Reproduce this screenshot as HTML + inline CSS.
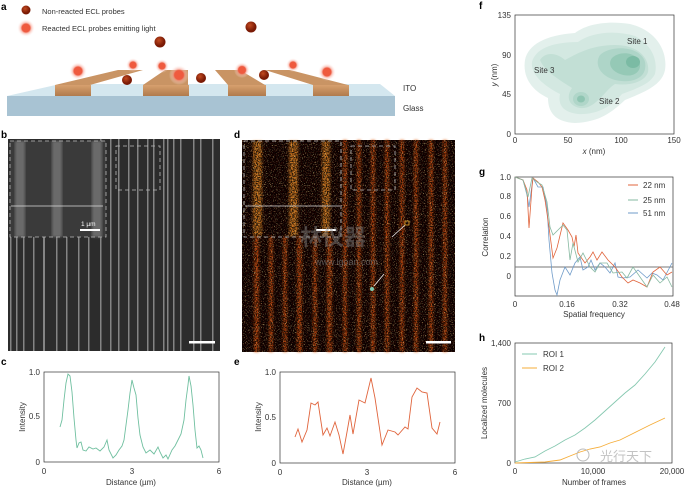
<!DOCTYPE html>
<html><head><meta charset="utf-8"><style>
body{margin:0;background:#fff;}
svg{display:block;font-family:"Liberation Sans","Noto Sans CJK SC",sans-serif;}
.t{font-size:8px;fill:#333;}
.L{font-size:10px;font-weight:bold;fill:#000;}
</style></head><body>
<svg width="685" height="487" viewBox="0 0 685 487" xmlns="http://www.w3.org/2000/svg">
<defs>
<radialGradient id="glow"><stop offset="0" stop-color="#f05a3c"/><stop offset="0.45" stop-color="#ee5a40"/><stop offset="0.6" stop-color="#f7a090" stop-opacity="0.6"/><stop offset="1" stop-color="#fff" stop-opacity="0"/></radialGradient>
<radialGradient id="dot" cx="0.4" cy="0.35"><stop offset="0" stop-color="#c24a20"/><stop offset="1" stop-color="#7a1a05"/></radialGradient>
<linearGradient id="wood" x1="0" y1="0" x2="0" y2="1"><stop offset="0" stop-color="#d7a06e"/><stop offset="1" stop-color="#b07a4c"/></linearGradient>
<filter id="noise" x="0" y="0" width="100%" height="100%"><feTurbulence type="fractalNoise" baseFrequency="0.8" numOctaves="2" seed="3"/><feColorMatrix values="0 0 0 0 0  0 0 0 0 0  0 0 0 0 0  5 0 0 0 -2"/></filter>
<filter id="noise2" x="0" y="0" width="100%" height="100%"><feTurbulence type="fractalNoise" baseFrequency="0.9" numOctaves="2" seed="7"/><feColorMatrix values="0 0 0 0 1  0 0 0 0 0.8  0 0 0 0 0.3  5 0 0 0 -2.9"/></filter>
<filter id="blur1"><feGaussianBlur stdDeviation="1.2"/></filter>
</defs>

<!-- Panel a -->
<text x="1" y="10" class="L">a</text>
<circle cx="26" cy="10" r="4.5" fill="url(#dot)"/>
<circle cx="26" cy="28" r="9" fill="url(#glow)"/>
<text x="42" y="14" class="t" style="font-size:7.5px">Non-reacted ECL probes</text>
<text x="42" y="31" class="t" style="font-size:7.5px">Reacted ECL probes emitting light</text>
<polygon points="7,96 60,84 380,84 395,96" fill="#d4e7ef"/>
<rect x="7" y="96" width="388" height="20" fill="#a8c3d3"/>
<g>
<polygon points="55,85 118,70 143,70 90,85" fill="#c99464"/>
<rect x="55" y="85" width="36" height="11" fill="url(#wood)"/>
<polygon points="143,85 165,70 188,70 188,85" fill="#c99464"/>
<rect x="143" y="85" width="46" height="11" fill="url(#wood)"/>
<polygon points="228,85 215,70 240,70 265,85" fill="#c99464"/>
<rect x="228" y="85" width="38" height="11" fill="url(#wood)"/>
<polygon points="313,85 265,70 290,70 348,85" fill="#c99464"/>
<rect x="313" y="85" width="36" height="11" fill="url(#wood)"/>
</g>
<circle cx="78" cy="71" r="9" fill="url(#glow)"/>
<circle cx="133" cy="65" r="7" fill="url(#glow)"/>
<circle cx="162" cy="66" r="7" fill="url(#glow)"/>
<circle cx="179" cy="75" r="10" fill="url(#glow)"/>
<circle cx="242" cy="70" r="8" fill="url(#glow)"/>
<circle cx="293" cy="65" r="7" fill="url(#glow)"/>
<circle cx="327" cy="72" r="9" fill="url(#glow)"/>
<circle cx="127" cy="80" r="5" fill="url(#dot)"/>
<circle cx="160" cy="42" r="5.5" fill="url(#dot)"/>
<circle cx="201" cy="78" r="5" fill="url(#dot)"/>
<circle cx="251" cy="27" r="5.5" fill="url(#dot)"/>
<circle cx="264" cy="75" r="5" fill="url(#dot)"/>
<text x="403" y="91" class="t">ITO</text>
<text x="403" y="111" class="t">Glass</text>

<!-- Panel b -->
<text x="1" y="138" class="L">b</text>
<rect x="8" y="139" width="212" height="212" fill="#2c2c2c"/>
<g fill="#9a9a9a" opacity="0.8">
<rect x="10" y="236" width="1.5" height="115"/><rect x="16" y="236" width="1.5" height="115"/><rect x="23" y="236" width="1.5" height="115"/>
<rect x="33" y="236" width="1.5" height="115"/><rect x="43" y="236" width="2" height="115"/><rect x="56" y="236" width="1.5" height="115"/>
<rect x="66" y="236" width="1.5" height="115"/><rect x="78" y="236" width="1.5" height="115"/><rect x="88" y="236" width="1.5" height="115"/>
<rect x="100" y="139" width="1.5" height="212"/><rect x="110" y="139" width="1.5" height="212"/><rect x="118" y="139" width="1.5" height="212"/>
<rect x="128" y="139" width="1.5" height="212"/><rect x="137" y="139" width="1.5" height="212"/><rect x="147" y="139" width="1.5" height="212"/>
<rect x="153" y="139" width="1.5" height="212"/><rect x="163" y="139" width="1.5" height="212"/><rect x="167" y="139" width="1.5" height="212"/>
<rect x="173" y="139" width="1.5" height="212"/><rect x="180" y="139" width="1.5" height="212"/><rect x="193" y="139" width="1.5" height="212"/>
<rect x="200" y="139" width="1.5" height="212"/><rect x="212" y="139" width="1.5" height="212"/>
</g>
<rect x="10" y="141" width="96" height="96" fill="#3a3a3a"/>
<rect x="15" y="141" width="10" height="96" fill="#6a6a6a" filter="url(#blur1)"/>
<rect x="52" y="141" width="10" height="96" fill="#6a6a6a" filter="url(#blur1)"/>
<rect x="92" y="141" width="10" height="96" fill="#6a6a6a" filter="url(#blur1)"/>
<rect x="10" y="141" width="96" height="96" fill="none" stroke="#bbb" stroke-width="0.8" stroke-dasharray="4,3"/>
<line x1="11" y1="206" x2="103" y2="206" stroke="#ddd" stroke-width="0.8"/>
<rect x="80" y="229" width="20" height="2" fill="#fff"/>
<text x="81" y="226" style="font-size:6.5px;fill:#fff">1 µm</text>
<rect x="116" y="146" width="44" height="44" fill="none" stroke="#bbb" stroke-width="0.8" stroke-dasharray="4,3"/>
<rect x="189" y="341" width="26" height="2.5" fill="#fff"/>

<!-- Panel d -->
<text x="234" y="138" class="L">d</text>
<rect x="242" y="140" width="213" height="212" fill="#1c0200"/>
<g fill="#e0520f" opacity="0.8" filter="url(#blur1)">
<rect x="254" y="236" width="5" height="116"/><rect x="269" y="236" width="4" height="116"/><rect x="283" y="236" width="4" height="116"/>
<rect x="297" y="236" width="5" height="116"/><rect x="313" y="236" width="4" height="116"/><rect x="327" y="236" width="5" height="116"/>
<rect x="343" y="140" width="4" height="212"/><rect x="357" y="140" width="4" height="212"/><rect x="371" y="140" width="4" height="212"/>
<rect x="385" y="140" width="4" height="212"/><rect x="400" y="140" width="4" height="212"/><rect x="414" y="140" width="4" height="212"/>
<rect x="429" y="140" width="4" height="212"/><rect x="443" y="140" width="4" height="212"/>
</g>
<g fill="#f08a20" filter="url(#blur1)" opacity="0.8">
<rect x="253" y="141" width="9" height="95"/><rect x="289" y="141" width="9" height="95"/><rect x="322" y="141" width="8" height="95"/>
</g>
<rect x="242" y="140" width="213" height="212" fill="#000" filter="url(#noise)" opacity="0.8"/>
<rect x="242" y="140" width="213" height="212" fill="#000" filter="url(#noise2)" opacity="0.6"/>
<rect x="244" y="141" width="97" height="96" fill="none" stroke="#ccc" stroke-width="0.8" stroke-dasharray="4,3"/>
<line x1="245" y1="206" x2="340" y2="206" stroke="#ddd" stroke-width="0.8"/>
<rect x="316" y="229" width="20" height="2" fill="#fff"/>
<rect x="351" y="146" width="44" height="44" fill="none" stroke="#bbb" stroke-width="0.8" stroke-dasharray="4,3"/>
<rect x="426" y="341" width="25" height="2.5" fill="#fff"/>
<line x1="392" y1="237" x2="405" y2="225" stroke="#eee" stroke-width="0.8"/>
<rect x="405" y="221" width="4" height="4" fill="none" stroke="#f3b030" stroke-width="0.8"/>
<line x1="384" y1="274" x2="374" y2="286" stroke="#eee" stroke-width="0.8"/>
<circle cx="372" cy="289" r="2" fill="#7cc8b0"/>
<text x="300" y="245" style="font-size:22px;fill:#888;opacity:0.45;font-weight:bold">林仪器</text>
<text x="315" y="265" style="font-size:9px;fill:#999;opacity:0.5">www.lgoan.com</text>

<!-- Panel c -->
<text x="1" y="365" class="L">c</text>
<rect x="44" y="372" width="175" height="90" fill="none" stroke="#333" stroke-width="0.7"/>
<g class="t" text-anchor="end"><text x="40" y="375">1.0</text><text x="40" y="419">0.5</text><text x="40" y="465">0</text></g>
<g class="t" text-anchor="middle"><text x="44" y="474">0</text><text x="132" y="474">3</text><text x="219" y="474">6</text><text x="131" y="485">Distance (µm)</text></g>
<text class="t" transform="translate(25,417) rotate(-90)" text-anchor="middle">Intensity</text>
<polyline fill="none" stroke="#6fbf9f" stroke-width="0.9" points="60,427 62,420 64,400 66,383 68,374 70,376 72,392 74,418 76,440 77,448 79,443 81,442 83,450 86,451 89,447 93,449 96,448 100,451 104,447 107,440 109,450 113,458 116,455 119,450 122,446 124,440 126,425 128,410 130,393 132,380 134,388 136,395 138,418 140,435 143,447 146,453 150,450 154,454 158,447 160,452 163,458 166,455 168,459 172,450 175,446 178,440 181,434 184,420 186,400 188,385 189,376 191,386 193,405 195,430 197,448 199,446 201,450 203,458"/>

<!-- Panel e -->
<text x="234" y="365" class="L">e</text>
<rect x="280" y="372" width="175" height="91" fill="none" stroke="#333" stroke-width="0.7"/>
<g class="t" text-anchor="end"><text x="276" y="375">1.0</text><text x="276" y="420">0.5</text><text x="276" y="466">0</text></g>
<g class="t" text-anchor="middle"><text x="280" y="475">0</text><text x="367" y="475">3</text><text x="455" y="475">6</text><text x="367" y="485">Distance (µm)</text></g>
<text class="t" transform="translate(261,417) rotate(-90)" text-anchor="middle">Intensity</text>
<polyline fill="none" stroke="#e0643c" stroke-width="0.9" points="295,437 298,429 302,442 307,430 311,403 315,405 318,402 323,435 327,428 330,436 335,422 339,435 343,454 347,432 350,415 353,434 359,400 365,403 371,378 375,398 382,445 388,430 395,432 398,435 405,427 408,429 412,397 417,388 422,392 427,393 432,428 437,434 440,422"/>

<!-- Panel f -->
<text x="479" y="9" class="L">f</text>
<path d="M525,60 C528,45 545,35 575,33 C585,25 605,20 630,24 C655,30 668,50 665,70 C662,85 645,92 625,100 C612,112 600,122 575,123 C555,122 548,112 548,98 C535,92 522,80 525,60Z" fill="#e3f0ec"/>
<path d="M532,62 C535,50 550,42 578,42 C592,32 615,30 635,36 C652,45 658,60 655,74 C650,84 638,88 622,94 C610,108 595,115 578,114 C562,112 558,104 560,94 C548,88 530,76 532,62Z" fill="#d3e8e1"/>
<path d="M540,60 C545,52 556,52 565,60 C575,55 590,45 615,45 C640,45 650,60 648,72 C645,82 630,86 615,84 C605,90 595,110 580,108 C568,106 566,96 572,88 C560,80 545,72 540,60Z" fill="#c2dfd5"/>
<path d="M600,55 C610,45 640,45 645,62 C648,78 632,84 615,80 C600,76 594,64 600,55Z" fill="#aed5c8"/>
<path d="M612,58 C620,50 638,52 640,64 C641,74 630,78 620,74 C610,70 608,63 612,58Z" fill="#95c9b6"/>
<ellipse cx="633" cy="62" rx="7" ry="6" fill="#7bbba4"/>
<ellipse cx="581" cy="99" rx="8" ry="7" fill="#b0d6c9"/>
<ellipse cx="581" cy="99" rx="4" ry="3.5" fill="#8fc5b2"/>
<rect x="515" y="15" width="159" height="119" fill="none" stroke="#333" stroke-width="0.7"/>
<g class="t" text-anchor="end"><text x="511" y="18">135</text><text x="511" y="58">90</text><text x="511" y="97">45</text><text x="511" y="137">0</text></g>
<g class="t" text-anchor="middle"><text x="515" y="143">0</text><text x="568" y="143">50</text><text x="621" y="143">100</text><text x="674" y="143">150</text><text x="594" y="154"><tspan font-style="italic">x</tspan> (nm)</text></g>
<text class="t" transform="translate(497,75) rotate(-90)" text-anchor="middle"><tspan font-style="italic">y</tspan> (nm)</text>
<text x="627" y="44" class="t">Site 1</text>
<text x="534" y="73" class="t">Site 3</text>
<text x="599" y="104" class="t">Site 2</text>

<!-- Panel g -->
<text x="479" y="175" class="L">g</text>
<rect x="515" y="177" width="158" height="119" fill="none" stroke="#333" stroke-width="0.7"/>
<g class="t" text-anchor="end"><text x="511" y="180">1.0</text><text x="511" y="199">0.8</text><text x="511" y="219">0.6</text><text x="511" y="239">0.4</text><text x="511" y="259">0.2</text><text x="511" y="279">0</text></g>
<g class="t" text-anchor="middle"><text x="515" y="307">0</text><text x="567" y="307">0.16</text><text x="620" y="307">0.32</text><text x="672" y="307">0.48</text><text x="594" y="317">Spatial frequency</text></g>
<text class="t" transform="translate(488,237) rotate(-90)" text-anchor="middle">Correlation</text>
<line x1="515" y1="267" x2="673" y2="267" stroke="#777" stroke-width="1"/>
<polyline fill="none" stroke="#6f9bc9" stroke-width="0.8" points="515,177 523,180 527,195 529,207 533,178 538,187 543,187 547,207 549,240 552,273 555,290 557,295 560,280 565,267 570,275 575,263 580,257 583,270 588,267 591,260 595,270 600,263 605,267 610,273 615,263 618,277 623,278 630,277 638,270 647,278 652,273 657,275 663,280 672,263"/>
<polyline fill="none" stroke="#e0643c" stroke-width="0.8" points="515,177 523,180 527,190 529,228 532,187 533,178 538,182 542,187 545,200 549,227 553,258 557,248 563,223 568,230 572,237 574,247 576,235 578,253 585,263 590,257 593,252 597,260 602,252 608,260 615,267 622,277 628,283 633,280 640,283 647,287 653,272 660,267 667,275 672,272"/>
<polyline fill="none" stroke="#86b8a0" stroke-width="0.8" points="515,177 523,180 528,197 532,178 537,182 542,185 547,202 550,227 553,235 558,230 563,225 567,230 570,260 573,243 578,262 583,253 590,267 595,272 600,263 607,263 613,273 622,272 627,278 633,267 640,277 647,287 653,275 660,283 667,277 672,287"/>
<line x1="628" y1="185" x2="638" y2="185" stroke="#e0643c" stroke-width="1"/><text x="643" y="188" class="t">22 nm</text>
<line x1="628" y1="200" x2="638" y2="200" stroke="#86b8a0" stroke-width="1"/><text x="643" y="203" class="t">25 nm</text>
<line x1="628" y1="213" x2="638" y2="213" stroke="#6f9bc9" stroke-width="1"/><text x="643" y="216" class="t">51 nm</text>

<!-- Panel h -->
<text x="479" y="341" class="L">h</text>
<rect x="515" y="343" width="157" height="120" fill="none" stroke="#333" stroke-width="0.7"/>
<g class="t" text-anchor="end"><text x="511" y="346">1,400</text><text x="511" y="406">700</text><text x="511" y="466">0</text></g>
<g class="t" text-anchor="middle"><text x="515" y="474">0</text><text x="593" y="474">10,000</text><text x="672" y="474">20,000</text><text x="594" y="485">Number of frames</text></g>
<text class="t" transform="translate(487,403) rotate(-90)" text-anchor="middle">Localized molecules</text>
<polyline fill="none" stroke="#86c8b0" stroke-width="0.9" points="515,462 525,459 535,457 545,451 555,446 565,440 575,435 585,428 595,420 605,411 615,402 625,393 635,385 645,374 655,362 665,347"/>
<polyline fill="none" stroke="#f5ad3a" stroke-width="0.9" points="515,463 545,462 560,460 570,456 580,452 590,449 600,447 610,443 620,440 630,435 640,430 650,425 665,418"/>
<line x1="522" y1="354" x2="537" y2="354" stroke="#86c8b0" stroke-width="1"/><text x="543" y="357" class="t">ROI 1</text>
<line x1="522" y1="368" x2="537" y2="368" stroke="#f5ad3a" stroke-width="1"/><text x="543" y="371" class="t">ROI 2</text>
<text x="600" y="461" style="font-size:13px;fill:#aaa;opacity:0.7">光行天下</text>
<circle cx="583" cy="455" r="6" fill="none" stroke="#bbb" stroke-width="1"/>
</svg>
</body></html>
